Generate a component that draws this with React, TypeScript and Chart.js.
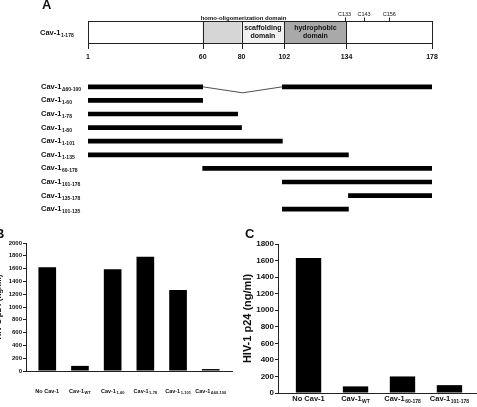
import React, { useEffect, useRef } from "react";
import { Chart, registerables } from "chart.js";

Chart.register(...registerables);

const FONT = '"Liberation Sans", Arial, Helvetica, sans-serif';

// ---------- Panel A data ----------
const residueMin = 1;
const residueMax = 178;
const boundaryTicks = [1, 60, 80, 102, 134, 178];
const domainStarts = [60, 80, 102];
const domainEnds = [80, 102, 134];
const domainFills = ["#d6d6d6", "#f1f1f1", "#a9a9a9"];
const domainLine1 = ["", "scaffolding", "hydrophobic"];
const domainLine2 = ["", "domain", "domain"];
const oligoLabel = "homo-oligomerization domain";
const oligoStart = 60;
const oligoEnd = 102;
const cysteines = [133, 143, 156];
const fullLengthSub = "1-178";
const constructMain = "Cav-1";
const constructSubs = ["Δ60-100", "1-60", "1-78", "1-80", "1-101", "1-135", "60-178", "101-178", "135-178", "101-135"];
const segStart = [1, 1, 1, 1, 1, 1, 60, 101, 135, 101];
const segEnd = [60, 60, 78, 80, 101, 135, 178, 178, 178, 135];
const seg2Start: (number | null)[] = [101, null, null, null, null, null, null, null, null, null];
const seg2End: (number | null)[] = [178, null, null, null, null, null, null, null, null, null];

// ---------- Panel B data ----------
const bLabelMain = ["No Cav-1", "Cav-1", "Cav-1", "Cav-1", "Cav-1", "Cav-1"];
const bLabelSub = ["", "WT", "1-60", "1-78", "1-101", "Δ60-100"];
const bValues = [1620, 80, 1590, 1785, 1265, 30];
const bMax = 2000;
const bStep = 200;

// ---------- Panel C data ----------
const cLabelMain = ["No Cav-1", "Cav-1", "Cav-1", "Cav-1"];
const cLabelSub = ["", "WT", "60-178", "101-178"];
const cValues = [1630, 80, 200, 95];
const cMax = 1800;
const cStep = 200;

const yTitle = "HIV-1 p24 (ng/ml)";

function drawSub(
  ctx: CanvasRenderingContext2D,
  main: string,
  sub: string,
  x: number,
  y: number,
  mainPx: number,
  subPx: number,
  align: "left" | "center"
) {
  ctx.save();
  ctx.fillStyle = "#111";
  ctx.textAlign = "left";
  ctx.textBaseline = "middle";
  const mf = `bold ${mainPx}px ${FONT}`;
  const sf = `bold ${subPx}px ${FONT}`;
  ctx.font = mf;
  const w1 = ctx.measureText(main).width;
  ctx.font = sf;
  const w2 = sub ? ctx.measureText(sub).width + 0.5 : 0;
  const x0 = align === "center" ? x - (w1 + w2) / 2 : x;
  ctx.font = mf;
  ctx.fillText(main, x0, y);
  if (sub) {
    ctx.font = sf;
    ctx.fillText(sub, x0 + w1 + 0.5, y + mainPx * 0.35);
  }
  ctx.restore();
}

const panelAPlugin = {
  id: "panelA",
  afterDraw(chart: any) {
    const ctx: CanvasRenderingContext2D = chart.ctx;
    const xs = chart.scales.x;
    const ys = chart.scales.y;
    const px = (v: number) => xs.getPixelForValue(v);
    const top = 21;
    const bot = 43;
    ctx.save();
    ctx.fillStyle = "#111";
    ctx.font = `bold 13px ${FONT}`;
    ctx.textBaseline = "middle";
    ctx.textAlign = "left";
    ctx.fillText("A", 42, 5);

    domainStarts.forEach((s, i) => {
      ctx.fillStyle = domainFills[i];
      ctx.fillRect(px(s), top, px(domainEnds[i]) - px(s), bot - top);
    });
    ctx.strokeStyle = "#222";
    ctx.lineWidth = 1;
    ctx.strokeRect(Math.round(px(residueMin)) + 0.5, top + 0.5, Math.round(px(residueMax) - px(residueMin)), bot - top);
    boundaryTicks.forEach((t) => {
      const x = Math.round(px(t)) + 0.5;
      ctx.beginPath();
      if (t !== residueMin && t !== residueMax) {
        ctx.moveTo(x, top);
        ctx.lineTo(x, bot);
      }
      ctx.moveTo(x, bot);
      ctx.lineTo(x, bot + 6);
      ctx.stroke();
    });
    ctx.fillStyle = "#111";
    ctx.font = `bold 7px ${FONT}`;
    ctx.textAlign = "center";
    boundaryTicks.forEach((t) => ctx.fillText(String(t), px(t), 57.5));

    ctx.font = `5.5px ${FONT}`;
    cysteines.forEach((c) => {
      const x = Math.round(px(c)) + 0.5;
      ctx.beginPath();
      ctx.moveTo(x, 17.5);
      ctx.lineTo(x, top);
      ctx.stroke();
      ctx.fillText("C" + c, px(c), 14);
    });

    ctx.font = `bold 7px ${FONT}`;
    domainStarts.forEach((s, i) => {
      if (!domainLine1[i]) return;
      const cx = (px(s) + px(domainEnds[i])) / 2;
      ctx.fillText(domainLine1[i], cx, 28);
      ctx.fillText(domainLine2[i], cx, 36.5);
    });
    ctx.font = `bold 6px ${FONT}`;
    ctx.fillText(oligoLabel, (px(oligoStart) + px(oligoEnd)) / 2, 18);

    drawSub(ctx, constructMain, fullLengthSub, 40, 32.5, 7.5, 5, "left");

    constructSubs.forEach((s, i) => {
      drawSub(ctx, constructMain, s, 41, ys.getPixelForValue(i), 7.5, 5, "left");
    });

    ctx.strokeStyle = "#222";
    ctx.lineWidth = 0.8;
    seg2Start.forEach((s, i) => {
      if (s == null) return;
      const y = ys.getPixelForValue(i);
      const a = segEnd[i];
      ctx.beginPath();
      ctx.moveTo(px(a), y);
      ctx.lineTo(px((a + s) / 2), y + 6);
      ctx.lineTo(px(s), y);
      ctx.stroke();
    });
    ctx.restore();
  },
};

function makeBarLabelPlugin(
  id: string,
  mains: string[],
  subs: string[],
  labelY: number,
  mainPx: number,
  subPx: number,
  letter: string,
  letterX: number,
  letterY: number,
  titleX: number,
  titlePx: number
) {
  return {
    id,
    afterDraw(chart: any) {
      const ctx: CanvasRenderingContext2D = chart.ctx;
      const xs = chart.scales.x;
      const area = chart.chartArea;
      mains.forEach((m, i) => {
        drawSub(ctx, m, subs[i], xs.getPixelForValue(i), labelY, mainPx, subPx, "center");
      });
      ctx.save();
      ctx.fillStyle = "#111";
      ctx.font = `bold 13px ${FONT}`;
      ctx.textAlign = "left";
      ctx.textBaseline = "middle";
      ctx.fillText(letter, letterX, letterY);
      ctx.translate(titleX, (area.top + area.bottom) / 2);
      ctx.rotate(-Math.PI / 2);
      ctx.textAlign = "center";
      ctx.font = `bold ${titlePx}px ${FONT}`;
      ctx.fillText(yTitle, 0, 0);
      ctx.restore();
    },
  };
}

function barConfig(
  values: number[],
  max: number,
  step: number,
  padding: any,
  yWidth: number,
  tickPx: number,
  plugin: any
): any {
  return {
    type: "bar",
    data: {
      datasets: [
        {
          data: values.map((v, i) => ({ x: i, y: v })),
          backgroundColor: "#000",
          borderWidth: 0,
          barPercentage: 0.54,
          categoryPercentage: 1,
        },
      ],
    },
    options: {
      responsive: false,
      animation: false,
      layout: { padding },
      plugins: { legend: { display: false }, tooltip: { enabled: false } },
      scales: {
        x: {
          type: "linear",
          min: -0.65,
          max: values.length - 1 + 0.65,
          offset: false,
          ticks: { display: false },
          grid: { display: false, offset: false },
          border: { display: true, color: "#222", width: 1 },
          afterFit: (s: any) => {
            s.height = 0;
          },
        },
        y: {
          min: 0,
          max,
          ticks: {
            stepSize: step,
            color: "#111",
            padding: 1,
            font: { family: FONT, size: tickPx, weight: "bold" },
            callback: (v: any) => String(v),
          },
          grid: { drawOnChartArea: false, tickLength: 3, color: "#222" },
          border: { display: true, color: "#222", width: 1 },
          afterFit: (s: any) => {
            s.width = yWidth;
          },
        },
      },
    },
    plugins: [plugin],
  };
}

export default function App() {
  const refA = useRef<HTMLCanvasElement>(null);
  const refB = useRef<HTMLCanvasElement>(null);
  const refC = useRef<HTMLCanvasElement>(null);

  useEffect(() => {
    const charts: Chart[] = [];
    if (refA.current) {
      charts.push(
        new Chart(refA.current, {
          type: "bar",
          data: {
            labels: constructSubs,
            datasets: [
              {
                data: segStart.map((s, i) => [s, segEnd[i]]) as any,
                backgroundColor: "#000",
                barThickness: 4,
                grouped: false,
              } as any,
              {
                data: seg2Start.map((s, i) => (s == null ? null : [s, seg2End[i] as number])) as any,
                backgroundColor: "#000",
                barThickness: 4,
                grouped: false,
              } as any,
            ],
          },
          options: {
            indexAxis: "y",
            responsive: false,
            animation: false,
            layout: { padding: { left: 88, right: 45, top: 80, bottom: 9 } },
            plugins: { legend: { display: false }, tooltip: { enabled: false } },
            scales: {
              x: { type: "linear", min: residueMin, max: residueMax, display: false },
              y: { display: false },
            },
          } as any,
          plugins: [panelAPlugin],
        })
      );
    }
    if (refB.current) {
      const pB = makeBarLabelPlugin("panelB", bLabelMain, bLabelSub, 166, 5.5, 4, "B", -5, 9, -1, 8);
      charts.push(
        new Chart(refB.current, barConfig(bValues, bMax, bStep, { left: 0, right: 8, top: 18, bottom: 36 }, 26, 6, pB))
      );
    }
    if (refC.current) {
      const pC = makeBarLabelPlugin("panelC", cLabelMain, cLabelSub, 174, 7.5, 5, "C", 7, 9, 10, 11);
      charts.push(
        new Chart(refC.current, barConfig(cValues, cMax, cStep, { left: 0, right: 8, top: 19, bottom: 14 }, 40, 8, pC))
      );
    }
    return () => charts.forEach((c) => c.destroy());
  }, []);

  return (
    <div
      style={{
        position: "fixed",
        left: 0,
        top: 0,
        width: 477,
        height: 407,
        overflow: "hidden",
        background: "#fff",
      }}
    >
      <canvas ref={refA} width={477} height={225} style={{ position: "absolute", left: 0, top: 0 }} />
      <canvas ref={refB} width={240} height={182} style={{ position: "absolute", left: 0, top: 225 }} />
      <canvas ref={refC} width={250} height={182} style={{ position: "absolute", left: 238, top: 225 }} />
    </div>
  );
}
